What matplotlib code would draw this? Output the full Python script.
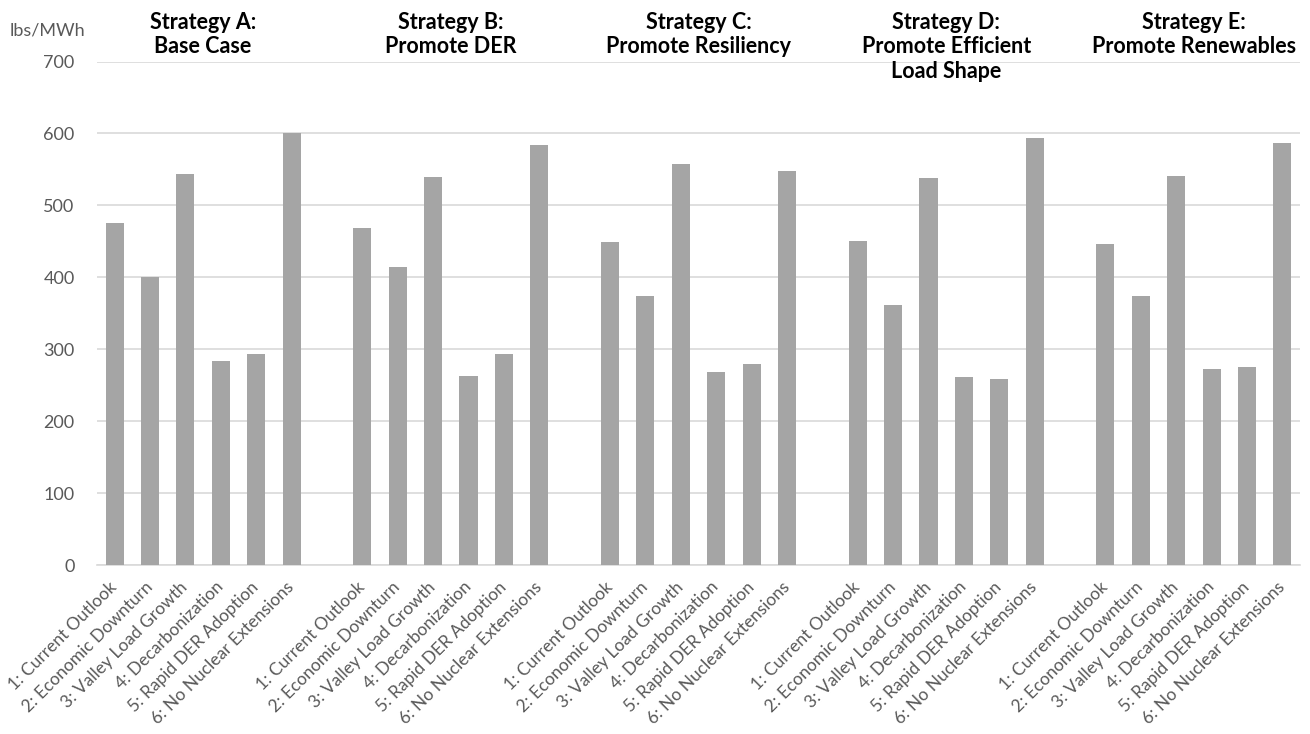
import numpy as np
import matplotlib.pyplot as plt

plt.rcParams['font.family'] = ['Lato', 'DejaVu Sans']

# scenario names shown under every strategy group
scenarios = ['1: Current Outlook', '2: Economic Downturn', '3: Valley Load Growth',
             '4: Decarbonization', '5: Rapid DER Adoption', '6: No Nuclear Extensions']

strategies = ['Strategy A:\nBase Case',
              'Strategy B:\nPromote DER',
              'Strategy C:\nPromote Resiliency',
              'Strategy D:\nPromote Efficient\nLoad Shape',
              'Strategy E:\nPromote Renewables']

# emissions rate, lbs/MWh
strategy_a = [475, 400, 543, 284, 293, 600]
strategy_b = [469, 415, 539, 263, 293, 584]
strategy_c = [449, 374, 557, 268, 280, 548]
strategy_d = [451, 362, 538, 261, 259, 593]
strategy_e = [446, 374, 541, 272, 276, 587]

values = [strategy_a, strategy_b, strategy_c, strategy_d, strategy_e]

bar_color = '#A5A5A5'
text_color = '#595959'
grid_color = '#D9D9D9'

fig = plt.figure(figsize=(13.1, 7.34), dpi=100)
ax = fig.add_axes([0.074, 0.2302, 0.9184, 0.686])

positions = []
labels = []
for g, vals in enumerate(values):
    x = g * 7 + np.arange(len(scenarios))
    ax.bar(x, vals, width=0.51, color=bar_color, zorder=3)
    positions.extend(x)
    labels.extend(scenarios)
    # group title above the plot area
    ax.text(g * 7 + 2.5, 1.099, strategies[g], transform=ax.get_xaxis_transform(),
            ha='center', va='top', fontsize=15.5, fontweight='bold', color='black',
            linespacing=1.22)

ax.set_xlim(-0.5, 33.5)
ax.set_ylim(0, 700)
ax.set_yticks(np.arange(0, 701, 100))
ax.yaxis.grid(True, color=grid_color, linewidth=1.2, zorder=0)
ax.set_axisbelow(True)

ax.set_xticks(positions)
ax.set_xticklabels(labels, rotation=45, ha='right', va='center',
                   rotation_mode='anchor', fontsize=12.5, color=text_color)
ax.tick_params(axis='x', length=0, pad=14)
ax.tick_params(axis='y', length=0, pad=16, labelsize=13, labelcolor=text_color)

for side in ['top', 'right', 'left']:
    ax.spines[side].set_visible(False)
ax.spines['bottom'].set_color(grid_color)
ax.spines['bottom'].set_linewidth(1.2)

fig.text(0.007, 0.958, 'lbs/MWh', fontsize=13, color=text_color, ha='left', va='center')

fig.savefig('out.png', dpi=100)
